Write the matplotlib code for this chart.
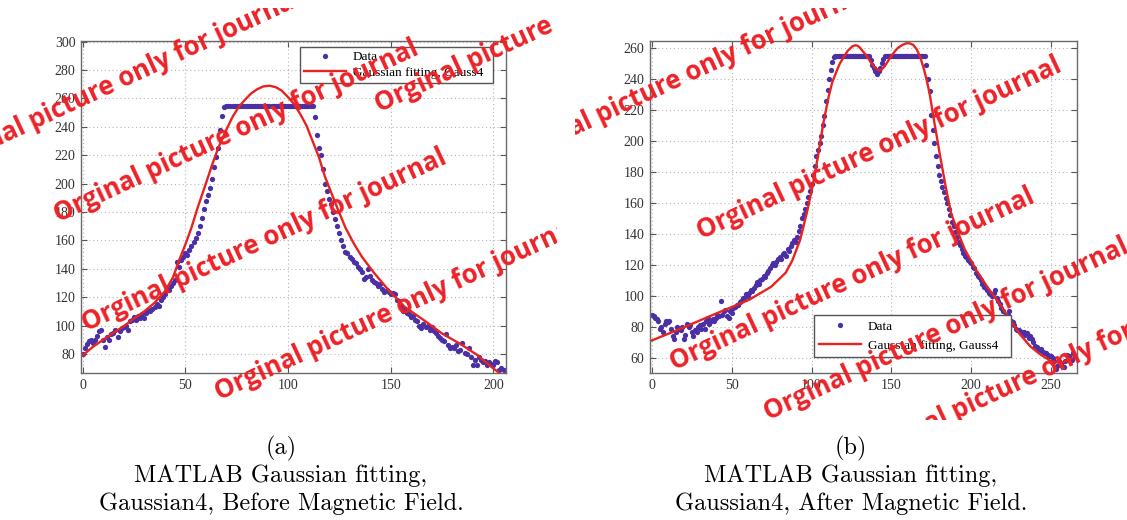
import numpy as np
import matplotlib
matplotlib.use("Agg")
import matplotlib.pyplot as plt

# ---------------- data ----------------
# Panel (a): before magnetic field
data_a_y = ([80, 84, 87, 89, 90, 88, 90, 93, 96, 97,
             90, 85, 92, 90, 94, 95, 97, 92, 96, 98,
             99, 100, 97, 103, 104, 106, 104, 107, 105, 108,
             105, 109, 111, 110, 112, 113, 115, 114, 118, 120,
             122, 126, 125, 128, 130, 132, 145, 141, 146, 148,
             151, 150, 153, 156, 159, 162, 165, 170, 176, 182,
             188, 192, 197, 203, 212, 219, 225, 238, 248, 254]
            + [255] * 43
            + [247, 234, 225, 220, 210, 200, 195, 189, 186, 180,
               175, 170, 165, 160, 156, 152, 151, 148, 147, 145,
               144, 141, 140, 138, 133, 134, 140, 135, 132, 131,
               130, 128, 129, 126, 124, 125, 124, 122, 123, 122,
               118, 117, 114, 110, 112, 109, 108, 106, 107, 104,
               103, 100, 98, 101, 99, 100, 97, 99, 96, 95,
               93, 91, 90, 89, 94, 86, 84, 85, 84, 86, 82,
               83, 88, 81, 80, 84, 78, 72, 76, 72, 78, 76,
               74, 75, 72, 74, 73, 72, 75, 74, 69, 70, 69])
data_a_x = list(range(len(data_a_y)))

fit_a_x = [0, 5, 10, 15, 20, 25, 30, 35, 40,
           44, 47, 50, 53, 56, 60, 63, 66, 70,
           73, 76, 79, 82, 85, 88, 91, 94, 97,
           100, 103, 106, 109, 112, 115, 118, 121, 124,
           128, 132, 136, 142, 149, 157, 166, 175, 184,
           192, 199, 203]
fit_a_y = [79, 85, 90, 95, 99.5, 105, 110, 116, 124,
           134, 146, 157, 169, 183, 200, 213, 225, 238,
           247, 254, 259, 263.5, 266.5, 268.5, 269, 268, 265.5,
           261, 256, 249, 241, 230, 219, 205, 194, 183,
           169, 158, 148.5, 137, 125, 113, 104, 94.5, 87,
           79.5, 71, 66.5]

# Panel (b): after magnetic field
data_b_y = ([88, 87, 86, 85, 84, 79, 80, 77, 82, 84,
             83, 84, 79, 74, 72, 77, 80, 79, 78, 80,
             72, 75, 82, 80, 81, 77, 74, 78, 77, 80,
             81, 79, 82, 79, 84, 86, 82, 84, 85, 84,
             86, 88, 87, 97, 88, 90, 91, 87, 86, 90,
             89, 92, 93, 94, 94, 96, 97, 99, 99, 101,
             100, 102, 104, 103, 105, 107, 109, 108, 110, 111,
             113, 112, 115, 116, 118, 120, 121, 120, 122, 124,
             125, 124, 127, 128, 126, 130, 129, 132, 134, 136,
             135, 138, 142, 145, 150, 153, 156, 160, 164, 168,
             172, 178, 184, 190, 194, 199, 203, 210, 216, 226,
             233, 240, 246, 251, 254]
            + [255] * 22
            + [252, 249, 247, 245, 243, 245, 247, 250, 253]
            + [255] * 26
            + [249, 240, 232, 217, 207, 199, 190, 184, 178, 174,
               170, 167, 163, 160, 156, 152, 148, 145, 141, 138,
               135, 133, 130, 128, 126, 125, 123, 122, 121, 119,
               118, 115, 113, 112, 110, 108, 106, 105, 104, 102,
               101, 100, 102, 104, 99, 97, 95, 92, 90, 87,
               86, 88, 90, 84, 83, 81, 79, 78, 78, 76, 77,
               77, 75, 76, 73, 74, 72, 70, 68, 67, 66, 65,
               66, 64, 63, 63, 62, 61, 61, 60, 58, 53, 55,
               58, 57, 55, 54, 58, 62, 61, 60, 59, 63, 61])
data_b_x = list(range(len(data_b_y)))

fit_b_x = [-1.4, 16, 38.7, 61, 74.8, 83.8, 88, 92.8, 97, 100.7,
           104, 107.4, 110.8, 113, 115.3, 117.5, 119.8, 122.5, 125.5, 127.2,
           128.8, 130.5, 132, 134.5, 136.7, 139.5, 141.9, 143.8, 145.7, 148.5,
           151.4, 154, 157, 159.3, 161.5, 163.7, 166, 168.3, 170.5, 172.2,
           173.9, 177, 180.6, 184, 187.4, 191.9, 196, 203, 210, 216.7,
           223, 230, 237, 243.7, 250, 256, 261.7, 265.8]
fit_b_y = [70.75, 78, 88, 97.6, 106, 115, 123, 136, 153.5, 171,
           190, 211.6, 229, 238, 244, 249.5, 253.5, 258, 261, 261.7,
           261.5, 260, 258, 255, 251.4, 247.5, 245.6, 246, 248, 252.5,
           256.8, 260, 262, 263, 263, 262, 259, 253.5, 246, 239,
           231, 211.6, 190, 170.7, 153.5, 140.6, 130, 117, 106, 96.6,
           87, 76, 67.5, 62, 58, 56.8, 59, 61]

legend_labels = ["Data", "Gaussian fitting, Gauss4"]
sub_labels = ["(a)", "(b)"]
captions = [["MATLAB Gaussian fitting,", "Gaussian4, Before Magnetic Field."],
            ["MATLAB Gaussian fitting,", "Gaussian4, After Magnetic Field."]]
watermark = "Orginal picture only for journal"

# ---------------- styling ----------------
W, H = 1127, 520
DOT = "#4b30a5"
RED = "#e8231f"
WM_RED = "#ec2227"
TICK_FONT = "Liberation Serif"

fig = plt.figure(figsize=(W / 100, H / 100), dpi=100)
fig.patch.set_facecolor("white")


def px_rect(x0, y0, x1, y1):
    return [x0 / W, 1 - y1 / H, (x1 - x0) / W, (y1 - y0) / H]


def style_axes(ax):
    for s in ax.spines.values():
        s.set_color("#6a6a6a")
        s.set_linewidth(1.0)
    ax.tick_params(direction="in", length=4, width=0.8, colors="#555555",
                   top=True, right=True, labelsize=10, pad=4,
                   labelcolor="#333333")
    for lab in ax.get_xticklabels() + ax.get_yticklabels():
        lab.set_fontfamily(TICK_FONT)
    ax.grid(True, linestyle=(0, (1, 2.5)), color="#b5b5b5", linewidth=0.8)
    ax.set_axisbelow(True)


LEG_PROP = {"family": TICK_FONT, "size": 9.5}

# Panel (a)
axa = fig.add_axes(px_rect(81, 41, 506, 373))
axa.plot(data_a_x, data_a_y, "o", color=DOT, markersize=3.8,
         markeredgewidth=0, label=legend_labels[0])
axa.plot(fit_a_x, fit_a_y, "-", color=RED, linewidth=1.7,
         label=legend_labels[1])
axa.set_xlim(-0.8, 206.2)
axa.set_ylim(66.6, 300.5)
axa.set_xticks([0, 50, 100, 150, 200])
axa.set_yticks(list(range(80, 301, 20)))
style_axes(axa)
lega = axa.legend(loc="upper left", bbox_to_anchor=(0.515, 0.982, 0.455, 0.0),
                  mode="expand", fancybox=False, framealpha=1,
                  edgecolor="#555555", prop=LEG_PROP,
                  borderpad=0.3, labelspacing=0.25, handlelength=3.2,
                  handletextpad=0.5, borderaxespad=0)
lega.get_frame().set_linewidth(1.0)

# Panel (b)
axb = fig.add_axes(px_rect(650, 41, 1077, 373))
axb.plot(data_b_x, data_b_y, "o", color=DOT, markersize=3.8,
         markeredgewidth=0, label=legend_labels[0])
axb.plot(fit_b_x, fit_b_y, "-", color=RED, linewidth=1.7,
         label=legend_labels[1])
axb.set_xlim(-1.2, 266.3)
axb.set_ylim(50.3, 264.5)
axb.set_xticks([0, 50, 100, 150, 200, 250])
axb.set_yticks(list(range(60, 261, 20)))
style_axes(axb)
legb = axb.legend(loc="lower left", bbox_to_anchor=(0.384, 0.048, 0.461, 0.0),
                  mode="expand", fancybox=False, framealpha=1,
                  edgecolor="#555555", prop=LEG_PROP,
                  borderpad=0.4, labelspacing=0.5, handlelength=3.2,
                  handletextpad=0.5, borderaxespad=0)
legb.get_frame().set_linewidth(1.0)

# ---------------- watermark overlays (clipped to each panel image) ----------
wm_left = fig.add_axes(px_rect(0, 8, 557, 420), zorder=10)
wm_right = fig.add_axes(px_rect(575, 8, 1127, 420), zorder=10)
for a in (wm_left, wm_right):
    a.set_axis_off()
    a.patch.set_alpha(0)

wm_left_pos = [(-59, 173), (58, 223), (86, 332), (219, 401), (379, 113)]
wm_right_pos = [(508, 167), (701, 240), (674, 371), (768, 421), (864, 463)]

for a, poss in ((wm_left, wm_left_pos), (wm_right, wm_right_pos)):
    for (px, py) in poss:
        t = a.text(px / W, 1 - py / H, watermark, transform=fig.transFigure,
                   rotation=25, rotation_mode="anchor", ha="left",
                   va="baseline", color=WM_RED, fontsize=18.5,
                   fontfamily="Open Sans", fontweight="bold", clip_on=True)
        t.set_clip_box(a.bbox)

# ---------------- captions ----------------
cap_x = [281, 851]
for i in range(2):
    fig.text(cap_x[i] / W, 1 - 454 / H, sub_labels[i], ha="center",
             va="baseline", fontsize=17.5, fontfamily="cmr10")
    fig.text(cap_x[i] / W, 1 - 482 / H, captions[i][0], ha="center",
             va="baseline", fontsize=17.5, fontfamily="cmr10")
    fig.text(cap_x[i] / W, 1 - 510 / H, captions[i][1], ha="center",
             va="baseline", fontsize=17.5, fontfamily="cmr10")

fig.savefig("out.png", dpi=100)
